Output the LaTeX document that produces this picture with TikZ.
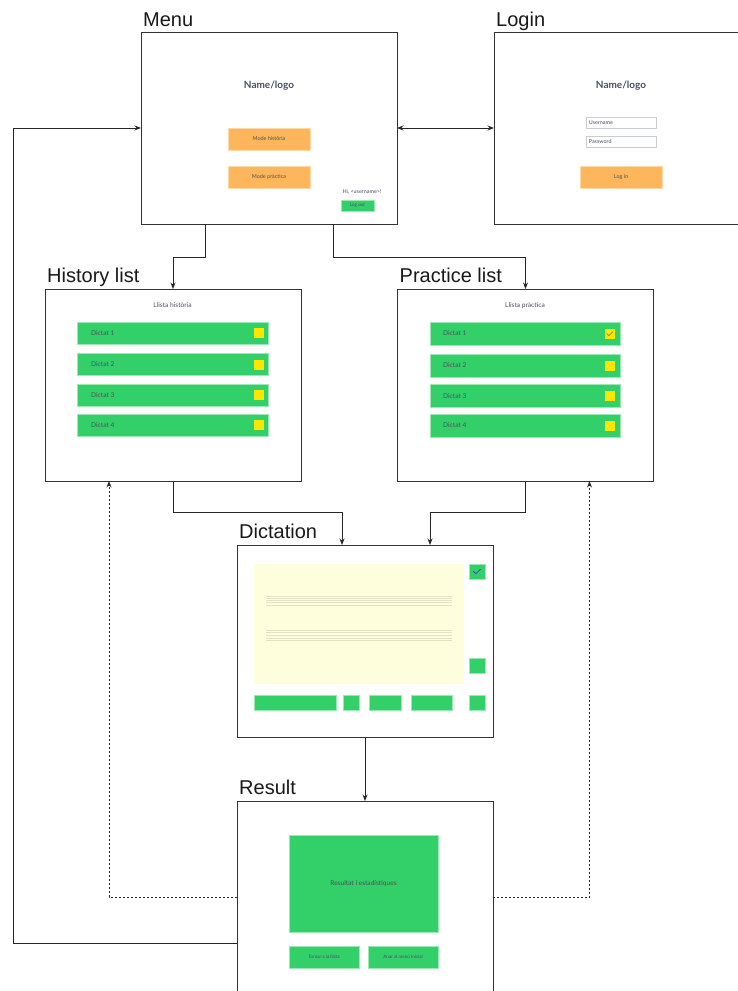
\documentclass[tikz,border=0pt]{standalone}
\usepackage{fontspec}
\setmainfont{Lato}
\newfontfamily\titlefont{Liberation Sans}
\usetikzlibrary{arrows.meta,calc}
\definecolor{gbtn}{HTML}{33CF69}
\definecolor{gedge}{HTML}{9BE8B5}
\definecolor{obtn}{HTML}{FDB65B}
\definecolor{oedge}{HTML}{FDD9A8}
\definecolor{ysq}{HTML}{FFE600}
\definecolor{ypad}{HTML}{FEFDDC}
\definecolor{txt}{HTML}{4A5060}
\definecolor{frame}{HTML}{333333}
\definecolor{fieldedge}{HTML}{C8CDD3}
\definecolor{staffc}{HTML}{E2E0C6}
\begin{document}
\begin{tikzpicture}[x=1pt,y=-1pt,
  screen/.style={draw=frame,line width=0.9pt,fill=white,minimum width=256pt,minimum height=192pt,inner sep=0pt,outer sep=0pt},
  ttl/.style={font=\titlefont\fontsize{20}{24}\selectfont,anchor=base west,inner sep=0pt,text=black!90},
  gbox/.style={fill=gbtn,draw=gedge,line width=0.6pt,inner sep=0pt,outer sep=0pt},
  obox/.style={fill=obtn,draw=oedge,line width=0.6pt,inner sep=0pt,outer sep=0pt},
  ysqr/.style={fill=ysq,draw=none,minimum width=10pt,minimum height=10pt,inner sep=0pt},
  field/.style={fill=white,draw=fieldedge,line width=0.6pt,minimum width=70pt,minimum height=11pt,inner sep=0pt},
  logo/.style={font=\bfseries\fontsize{10}{12}\selectfont,text=txt,inner sep=0pt},
  small/.style={font=\fontsize{6.6}{8}\selectfont,text=txt,inner sep=0pt},
  tiny/.style={font=\fontsize{5.4}{6.5}\selectfont,text=txt,inner sep=0pt},
  wee/.style={font=\fontsize{4.6}{5.5}\selectfont,text=txt,inner sep=0pt},
  conn/.style={draw=black!85,line width=0.9pt,-{Stealth[length=6.5pt,width=5pt]}},
  both/.style={draw=black!85,line width=0.9pt,{Stealth[length=6.5pt,width=5pt]}-{Stealth[length=6.5pt,width=5pt]}},
  dconn/.style={conn,dash pattern=on 2pt off 2pt},
  staff/.style={draw=staffc,line width=0.6pt},
  tick/.style={draw=#1,line width=0.8pt,line cap=round,line join=round},
]
\useasboundingbox (0,0) rectangle (738,991);
\clip (0,0) rectangle (738,991);

% ---------- screens ----------
\node[screen] (menu)   at (269,128) {};
\node[screen] (login)  at (622,128) {};
\node[screen] (hist)   at (173,385) {};
\node[screen] (prac)   at (525.5,385) {};
\node[screen] (dict)   at (365,641) {};
\node[screen] (result) at (365,897) {};

% ---------- titles ----------
\node[ttl] (tmenu)   at ($(menu.north west)+(2,-6)$)   {Menu};
\node[ttl] (tlogin)  at ($(login.north west)+(2,-6)$)  {Login};
\node[ttl] (thist)   at ($(hist.north west)+(2,-7)$)   {History list};
\node[ttl] (tprac)   at ($(prac.north west)+(2,-7)$)   {Practice list};
\node[ttl] (tdict)   at ($(dict.north west)+(2,-7)$)   {Dictation};
\node[ttl] (tresult) at ($(result.north west)+(2,-7)$) {Result};

% ---------- menu content ----------
\node[logo] (mlogo) at (269,86) {Name/logo};
\node[obox,minimum width=82pt,minimum height=22pt] (mh) at (269,139) {};
\node[tiny] (mhl) at (mh.center) {Mode història};
\node[obox,minimum width=82pt,minimum height=22pt] (mp) at (269,177) {};
\node[tiny] (mpl) at (mp.center) {Mode pràctica};
\node[tiny] (hi) at (362,191.5) {Hi, <username>!};
\node[gbox,minimum width=33pt,minimum height=11pt] (logout) at (357.5,205.5) {};
\node[wee] (logoutl) at (logout.center) {Log out};

% ---------- login content ----------
\node[logo] (llogo) at (621,86) {Name/logo};
\node[field] (user) at (621,122.5) {};
\node[tiny,anchor=west] (userl) at ($(user.west)+(3,0)$) {Username};
\node[field] (pass) at (621,141.5) {};
\node[tiny,anchor=west] (passl) at ($(pass.west)+(3,0)$) {Password};
\node[obox,minimum width=82pt,minimum height=22pt] (lbtn) at (621,177) {};
\node[tiny] (lbtnl) at (lbtn.center) {Log in};

% ---------- history list ----------
\node[small] (htitle) at (172.5,305) {Llista història};
\foreach \i/\y in {1/333,2/364.5,3/395,4/425}{
  \node[gbox,minimum width=191pt,minimum height=22pt] (hr\i) at (172.5,\y) {};
  \node[small,anchor=west] (hrl\i) at (91,\y) {Dictat \i};
  \node[ysqr] (hs\i) at (258.5,\y) {};
}

% ---------- practice list ----------
\node[small] (ptitle) at (525,306) {Llista pràctica};
\foreach \i/\y in {1/333.5,2/365.5,3/396,4/425.5}{
  \node[gbox,minimum width=190pt,minimum height=23pt] (pr\i) at (525,\y) {};
  \node[small,anchor=west] (prl\i) at (443,\y) {Dictat \i};
  \node[ysqr] (ps\i) at (610,\y) {};
}
\draw[tick=olive!70!gray] ($(ps1.center)+(-3.2,0.2)$) -- ++(2,2) -- ++(4.2,-4);

% ---------- dictation ----------
\node[fill=ypad,draw=none,minimum width=210pt,minimum height=120pt,inner sep=0pt] (pad) at (359,624) {};
\foreach \k in {0,...,4}{
  \draw[staff] (266,{596+2.25*\k}) -- (452,{596+2.25*\k});
  \draw[staff] (266,{630+2.6*\k}) -- (452,{630+2.6*\k});
}
\node[gbox,minimum width=16pt,minimum height=15pt] (dchk) at (477,571.5) {};
\draw[tick=blue!40!gray] ($(dchk.center)+(-3.5,0)$) -- ++(2.3,2.2) -- ++(4.7,-4.4);
\node[gbox,minimum width=16pt,minimum height=15pt] (dsq) at (477,665.5) {};
\node[gbox,minimum width=82pt,minimum height=15pt] (db1) at (295,702.5) {};
\node[gbox,minimum width=16pt,minimum height=15pt] (db2) at (351,702.5) {};
\node[gbox,minimum width=32pt,minimum height=15pt] (db3) at (385,702.5) {};
\node[gbox,minimum width=41pt,minimum height=15pt] (db4) at (431.5,702.5) {};
\node[gbox,minimum width=16pt,minimum height=15pt] (db5) at (477,702.5) {};

% ---------- result ----------
\node[gbox,minimum width=149pt,minimum height=97pt] (stats) at (363.5,883.5) {};
\node[small] (statsl) at (stats.center) {Resultat i estadístiques};
\node[gbox,minimum width=70pt,minimum height=22pt] (back) at (324,957) {};
\node[wee] (backl) at (back.center) {Tornar a la llista};
\node[gbox,minimum width=70pt,minimum height=22pt] (home) at (403,957) {};
\node[wee] (homel) at (home.center) {Anar al menú inicial};

% ---------- connectors ----------
\draw[both] (menu.east) -- (login.west);
\draw[conn] ($(menu.south)+(-64,0)$) |- ($(hist.north)+(0,-32)$) -- (hist.north);
\draw[conn] ($(menu.south)+(64,0)$) |- ($(prac.north)+(0,-32)$) -- (prac.north);
\draw[conn] (hist.south) |- ($(dict.north)+(-23,-33)$) -- ($(dict.north)+(-23,0)$);
\draw[conn] (prac.south) |- ($(dict.north)+(65,-33)$) -- ($(dict.north)+(65,0)$);
\draw[conn] (dict.south) -- (result.north);
\draw[dconn] (result.west) -| ($(hist.south)+(-64,0)$);
\draw[dconn] (result.east) -| ($(prac.south)+(64,0)$);
\coordinate (leftrail) at (13,943);
\draw[conn] ($(result.west)+(0,46)$) -- (leftrail) |- (menu.west);
\end{tikzpicture}
\end{document}
